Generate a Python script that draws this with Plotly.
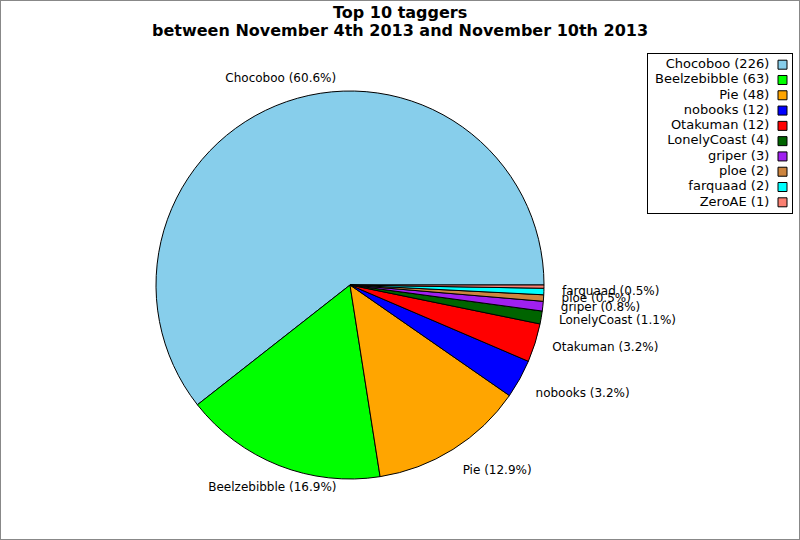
import math
import plotly.graph_objects as go

names = ["Chocoboo", "Beelzebibble", "Pie", "nobooks", "Otakuman",
         "LonelyCoast", "griper", "ploe", "farquaad", "ZeroAE"]
counts = [226, 63, 48, 12, 12, 4, 3, 2, 2, 1]
colors = ["#87CEEB", "#00FF00", "#FFA500", "#0000FF", "#FF0000",
          "#006400", "#A020F0", "#CD853F", "#00FFFF", "#FA8072"]
title_lines = ["Top 10 taggers", "between November 4th 2013 and November 10th 2013"]

total = sum(counts)
pcts = [100 * c / total for c in counts]
legend_labels = [f"{n} ({c})" for n, c in zip(names, counts)]
slice_text = [f"{n} ({p:.1f}%)" if p >= 0.5 else "" for n, p in zip(names, pcts)]

# mid-angle of each slice (degrees, counterclockwise from 3 o'clock), from the data
mid_angles = []
acc = 0.0
for c in counts:
    mid_angles.append(360.0 * (acc + c / 2) / total)
    acc += c


def label_position(angle):
    c, s = math.cos(math.radians(angle)), math.sin(math.radians(angle))
    h = "right" if c > 0.5 else ("left" if c < -0.5 else "center")
    v = "bottom" if s < -0.4 else ("top" if s > 0.4 else "middle")
    return f"{v} {h}"


label_pos = [label_position(a) for a in mid_angles]
LABEL_R = 1.093

W, H = 800, 540
# pie geometry (paper fractions)
PX0, PX1 = 156 / W, 544 / W
PY0, PY1 = 61 / H, 449 / H
RMAX = 1.3
cx, cy = (PX0 + PX1) / 2, (PY0 + PY1) / 2
hw, hh = (PX1 - PX0) / 2 * RMAX, (PY1 - PY0) / 2 * RMAX

# legend box geometry
LX0, LX1 = 648 / W, 792 / W
LY0, LY1 = (H - 213) / H, (H - 54) / H

fig = go.Figure()
# Plotly's counterclockwise pies place the first slice clockwise of `rotation`,
# so shift by the first slice's angle to make it start at 3 o'clock going CCW.
fig.add_trace(go.Pie(
    labels=legend_labels,
    values=counts,
    textinfo="none",
    sort=False,
    direction="counterclockwise",
    rotation=90 - 360.0 * counts[0] / total,
    marker=dict(colors=colors, line=dict(color="black", width=1)),
    domain=dict(x=[PX0, PX1], y=[PY0, PY1]),
    showlegend=False,
    hoverinfo="label+percent",
))

fig.add_trace(go.Scatterpolar(
    r=[LABEL_R] * len(names),
    theta=mid_angles,
    mode="text",
    text=slice_text,
    textposition=label_pos,
    textfont=dict(family="DejaVu Sans", size=12, color="black"),
    showlegend=False,
    hoverinfo="skip",
    subplot="polar",
))

# legend drawn as a small boxed panel
fig.add_trace(go.Scatter(
    x=[0.934] * len(names),
    y=legend_labels,
    mode="markers",
    marker=dict(symbol="square", size=9, color=colors,
                line=dict(color="black", width=1)),
    showlegend=False, hoverinfo="skip",
    xaxis="x", yaxis="y",
))
fig.add_trace(go.Scatter(
    x=[0.842] * len(names),
    y=legend_labels,
    mode="text",
    text=legend_labels,
    textposition="middle left",
    textfont=dict(family="DejaVu Sans", size=13, color="black"),
    showlegend=False, hoverinfo="skip",
    xaxis="x", yaxis="y",
))

fig.update_layout(
    width=W, height=H,
    margin=dict(l=0, r=0, t=0, b=0),
    paper_bgcolor="white",
    plot_bgcolor="white",
    font=dict(family="DejaVu Sans", color="black"),
    showlegend=False,
    polar=dict(
        domain=dict(x=[cx - hw, cx + hw], y=[cy - hh, cy + hh]),
        bgcolor="rgba(0,0,0,0)",
        radialaxis=dict(visible=False, range=[0, RMAX]),
        angularaxis=dict(visible=False, rotation=0, direction="counterclockwise"),
    ),
    xaxis=dict(domain=[LX0, LX1], range=[0, 1], showgrid=False, zeroline=False,
               showticklabels=False, ticks="", showline=True, mirror=True,
               linecolor="black", linewidth=1, fixedrange=True),
    yaxis=dict(domain=[LY0, LY1], type="category", range=[9.7, -0.7],
               showgrid=False, zeroline=False, showticklabels=False, ticks="",
               showline=True, mirror=True, linecolor="black", linewidth=1,
               fixedrange=True),
    annotations=[
        dict(text=f"<b>{title_lines[0]}</b>", xref="paper", yref="paper",
             x=0.5, y=(H - 12) / H, xanchor="center", yanchor="middle",
             showarrow=False, font=dict(family="DejaVu Sans", size=16, color="black")),
        dict(text=f"<b>{title_lines[1]}</b>", xref="paper", yref="paper",
             x=0.5, y=(H - 30) / H, xanchor="center", yanchor="middle",
             showarrow=False, font=dict(family="DejaVu Sans", size=16, color="black")),
    ],
    shapes=[dict(type="rect", xref="paper", yref="paper", x0=0, y0=0, x1=1, y1=1,
                 line=dict(color="#888888", width=2))],
)

fig.write_html("out.html", config={"displayModeBar": False},
               post_script="document.body.style.margin='0';")
